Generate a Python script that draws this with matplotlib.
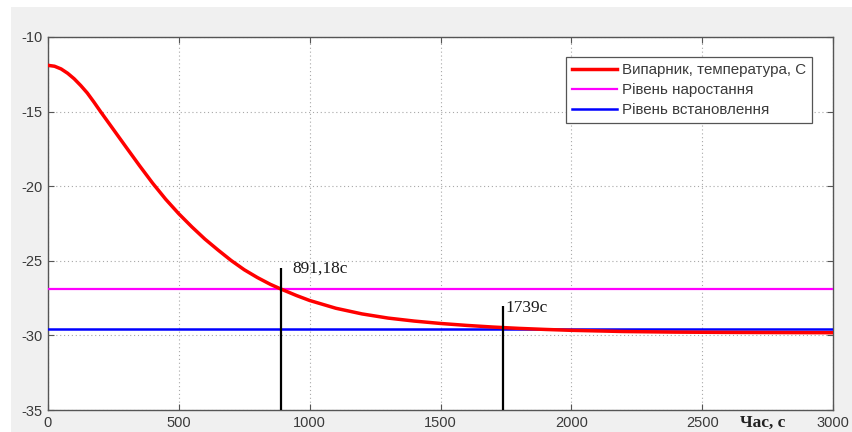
import matplotlib
matplotlib.use("Agg")
import matplotlib.pyplot as plt
from matplotlib.patches import Rectangle

plt.rcParams["axes.unicode_minus"] = False

# Evaporator temperature response (time in s, temperature in C)
time_s = [0, 25, 50, 75, 100, 125, 150, 175, 200, 250, 300, 350, 400, 450, 500,
          550, 600, 650, 700, 750, 800, 850, 891.18, 950, 1000, 1100, 1200, 1300,
          1400, 1500, 1600, 1700, 1800, 1900, 2000, 2100, 2200, 2400, 2600, 2800,
          3000]
temp_c = [-11.90, -11.96, -12.14, -12.43, -12.80, -13.25, -13.75, -14.35, -14.98,
          -16.20, -17.42, -18.63, -19.80, -20.88, -21.85, -22.73, -23.55, -24.28,
          -24.98, -25.60, -26.12, -26.58, -26.90, -27.33, -27.66, -28.18, -28.56,
          -28.84, -29.04, -29.20, -29.33, -29.44, -29.53, -29.60, -29.66, -29.70,
          -29.74, -29.78, -29.80, -29.81, -29.82]

rise_level = -26.9
settle_level = -29.6
rise_time = 891.18
settle_time = 1739
rise_label = "891,18c"
settle_label = "1739c"

series_labels = ["Випарник, температура, С", "Рівень наростання", "Рівень встановлення"]
x_ticks = [0, 500, 1000, 1500, 2000, 2500, 3000]
y_ticks = [-35, -30, -25, -20, -15, -10]

fig = plt.figure(figsize=(8.53, 4.32), dpi=100, facecolor="white")
fig.patches.append(Rectangle((11 / 853, 0), 1, 1 - 7 / 432, transform=fig.transFigure,
                             facecolor="#f0f0f0", edgecolor="none", zorder=-10))

ax = fig.add_axes([48 / 853, 1 - 410 / 432, 785 / 853, 373 / 432])
ax.set_facecolor("white")

ax.plot(time_s, temp_c, color="#ff0000", lw=2.5, label=series_labels[0], zorder=4,
        solid_joinstyle="round")
ax.axhline(rise_level, color="#ff00ff", lw=1.6, label=series_labels[1], zorder=3)
ax.axhline(settle_level, color="#0000ff", lw=1.8, label=series_labels[2], zorder=3)

ax.vlines(rise_time, -35, -25.45, color="black", lw=1.6, zorder=5)
ax.vlines(settle_time, -35, -28.0, color="black", lw=1.6, zorder=5)
ax.text(rise_time + 42, -25.5, rise_label, family="Liberation Serif", fontsize=12.5,
        color="#1a1a1a", va="center", ha="left")
ax.text(settle_time + 8, -28.15, settle_label, family="Liberation Serif", fontsize=12.5,
        color="#1a1a1a", va="center", ha="left")

ax.set_xlim(0, 3000)
ax.set_ylim(-35, -10)
ax.set_xticks(x_ticks)
ax.set_yticks(y_ticks)
ax.grid(True, color="#a8a8a8", lw=0.8, linestyle=(0, (1, 2.5)))
ax.tick_params(direction="in", top=True, right=True, length=4, width=0.8,
               colors="#555555", labelcolor="#3a3a3a", labelsize=10.5, pad=4)
for lab in ax.get_xticklabels() + ax.get_yticklabels():
    lab.set_family("Liberation Sans")
for sp in ax.spines.values():
    sp.set_color("#555555")
    sp.set_linewidth(1.0)

leg = ax.legend(loc="upper right", bbox_to_anchor=(0.973, 0.946), borderaxespad=0,
                fancybox=False, framealpha=1, edgecolor="#555555",
                prop={"family": "Liberation Sans", "size": 10.9},
                handlelength=3.0, handletextpad=0.3, labelspacing=0.4,
                borderpad=0.4)
leg.get_frame().set_linewidth(0.9)
for t in leg.get_texts():
    t.set_color("#3a3a3a")

fig.text(763 / 853, 1 - 423 / 432, "Час, с", family="Liberation Serif", fontsize=12.5,
         fontweight="bold", color="#222222", ha="center", va="center")

fig.savefig("out.png", dpi=100, facecolor=fig.get_facecolor())
